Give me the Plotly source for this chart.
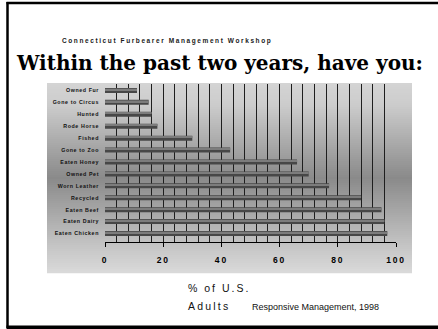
import plotly.graph_objects as go

# Survey items, bottom to top, and share of U.S. adults (%)
activities = ["Eaten Chicken", "Eaten Dairy", "Eaten Beef", "Recycled", "Worn Leather",
              "Owned Pet", "Eaten Honey", "Gone to Zoo", "Fished", "Rode Horse",
              "Hunted", "Gone to Circus", "Owned Fur"]
percent = [97, 96, 95, 88, 77, 70, 66, 43, 30, 18, 16, 15, 11]
x_ticks = [0, 20, 40, 60, 80, 100]

W, H = 438, 329
L, R, T, B = 105, 396, 84, 242          # plot area in pixels


def px(x):
    return (x - L) / (R - L)


def py(y):
    return (B - y) / (B - T)


def spaced(text, gap, bold=False):
    """Wrap text in a span with extra letter spacing."""
    inner = f"<b>{text}</b>" if bold else text
    return f'<span style="letter-spacing:{gap}px">{inner}</span>'


fig = go.Figure()

# dark bar body
fig.add_trace(go.Bar(
    x=percent, y=activities, orientation="h",
    width=0.42, offset=-0.21,
    marker=dict(color="#474747", line=dict(width=0)),
    hoverinfo="skip", showlegend=False,
))
# lighter highlight stripe on top of each bar
fig.add_trace(go.Bar(
    x=percent, y=activities, orientation="h",
    width=0.12, offset=0.03,
    marker=dict(color="#7c7c7c", line=dict(width=0)),
    hoverinfo="skip", showlegend=False,
))

shapes = []

# grey panel with a vertical light-dark-light gradient
stops = [(83, 212), (105, 204), (178, 138), (245, 196), (273, 218)]
n = 95
y_top, y_bot = 83, 273
step = (y_bot - y_top) / n
for i in range(n):
    ya = y_top + i * step
    yb = ya + step
    ym = (ya + yb) / 2
    for (s0, c0), (s1, c1) in zip(stops[:-1], stops[1:]):
        if s0 <= ym <= s1:
            c = c0 + (c1 - c0) * (ym - s0) / (s1 - s0)
            break
    c = int(round(c))
    shapes.append(dict(
        type="rect", xref="paper", yref="paper", layer="below",
        x0=px(47), x1=px(412), y0=py(yb + 0.3), y1=py(ya),
        fillcolor=f"rgb({c},{c},{c})", line=dict(width=0),
    ))

# page frame
shapes.append(dict(type="line", xref="paper", yref="paper",
                   x0=px(7.5), x1=px(7.5), y0=py(2), y1=py(328),
                   line=dict(color="black", width=2.5)))
shapes.append(dict(type="line", xref="paper", yref="paper",
                   x0=px(6.5), x1=px(445), y0=py(3), y1=py(3),
                   line=dict(color="black", width=2.5)))
shapes.append(dict(type="line", xref="paper", yref="paper",
                   x0=px(6.5), x1=px(445), y0=py(327.5), y1=py(327.5),
                   line=dict(color="black", width=4)))


def note(text, x, y, xanchor, font):
    return dict(text=text, x=px(x), y=py(y), xref="paper", yref="paper",
                xanchor=xanchor, yanchor="middle", showarrow=False, font=font)


annotations = [
    note(spaced("Connecticut Furbearer Management Workshop", 1.6, bold=True), 60, 41, "left",
         dict(family="Liberation Sans", size=6.5, color="#1a1a1a")),
    note("<b>Within the past two years, have you:</b>", 219, 63, "center",
         dict(family="DejaVu Serif", size=20, color="black")),
    note(spaced("% of U.S.", 2.0), 186, 288, "left",
         dict(family="Liberation Sans", size=10.5, color="#111111")),
    note(spaced("Adults", 2.2), 186, 306, "left",
         dict(family="Liberation Sans", size=10.5, color="#111111")),
    note("Responsive Management, 1998", 250, 307, "left",
         dict(family="Liberation Sans", size=9, color="#111111")),
]

fig.update_layout(
    width=W, height=H,
    margin=dict(l=L, r=W - R, t=T, b=H - B, pad=0),
    paper_bgcolor="white",
    plot_bgcolor="rgba(0,0,0,0)",
    barmode="overlay",
    shapes=shapes,
    annotations=annotations,
    showlegend=False,
)

fig.update_xaxes(
    range=[0, 100],
    tickvals=x_ticks,
    ticktext=[spaced(v, 1.8, bold=True) for v in x_ticks],
    tickfont=dict(family="Liberation Sans", size=8.5, color="black"),
    ticks="outside", ticklen=4, tickcolor="black", tickwidth=1,
    ticklabelstandoff=6,
    showgrid=True, gridcolor="#1e1e1e", gridwidth=1,
    minor=dict(dtick=4, showgrid=True, gridcolor="#1e1e1e", gridwidth=1, ticks=""),
    showline=True, linecolor="black", linewidth=1,
    zeroline=False,
    fixedrange=True,
)

fig.update_yaxes(
    categoryorder="array", categoryarray=activities,
    range=[-0.71, 12.54],
    tickfont=dict(family="Liberation Sans", size=5.3, color="#111111"),
    ticktext=[spaced(a, 0.6, bold=True) for a in activities],
    tickvals=activities,
    ticks="", ticklabelstandoff=5,
    showgrid=False, zeroline=False, showline=False,
    fixedrange=True,
)

fig.write_html("out.html")
